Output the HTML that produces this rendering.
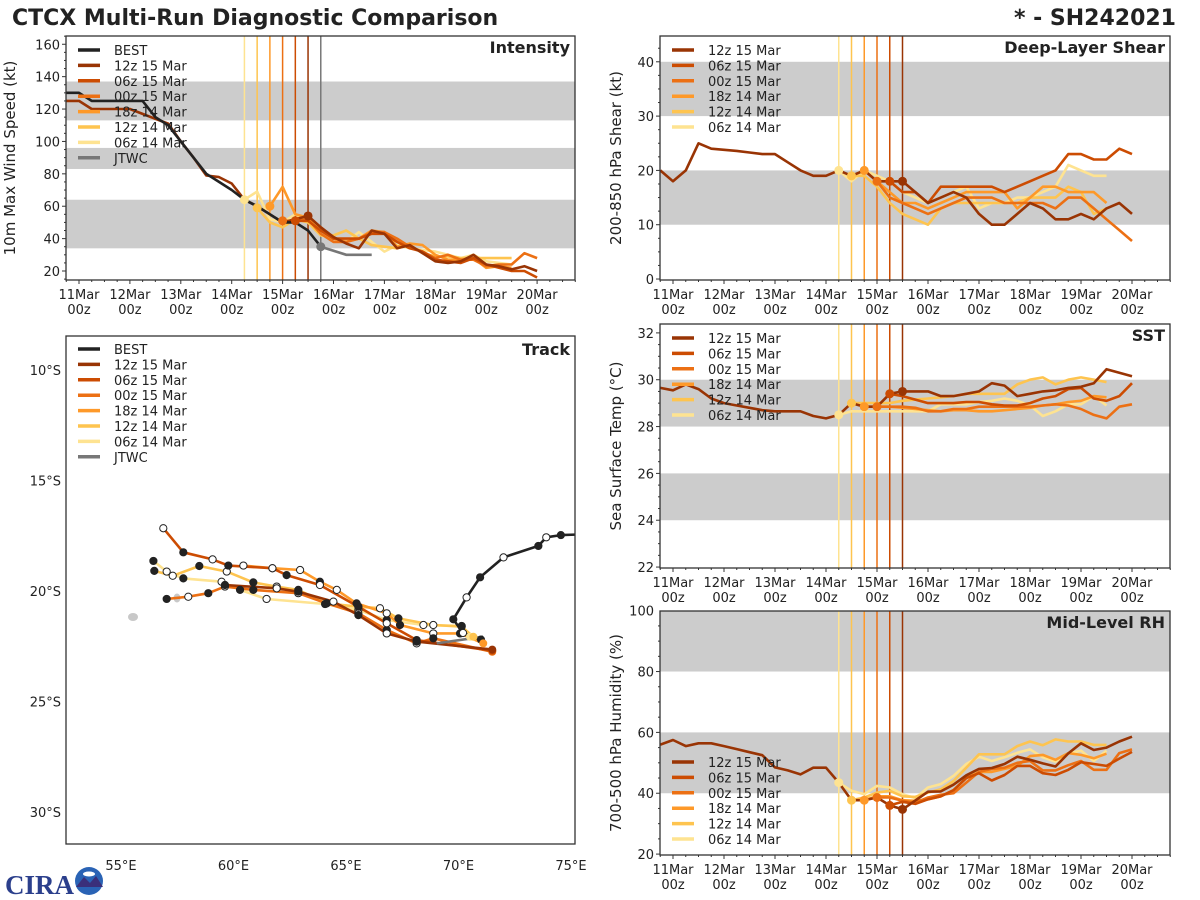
<!DOCTYPE html>
<html><head><meta charset="utf-8">
<style>
html,body{margin:0;padding:0;background:#fff;}
svg{display:block;font-family:"DejaVu Sans","Liberation Sans",sans-serif;}
</style></head>
<body>
<svg id="chart" width="1200" height="900" viewBox="0 0 1200 900" xmlns="http://www.w3.org/2000/svg">
<rect x="0" y="0" width="1200" height="900" fill="#fff"/>
<text x="12" y="25" font-size="22" font-weight="bold" fill="#222">CTCX Multi-Run Diagnostic Comparison</text>
<text x="1176" y="25" font-size="22" font-weight="bold" fill="#222" text-anchor="end">* - SH242021</text>
<g>
<text x="5" y="894" font-size="27" font-weight="bold" fill="#2b3f8c" font-family="Liberation Serif, serif">CIRA</text>
<circle cx="89" cy="881" r="14" fill="#2a63b5"/>
<path d="M76,887 L84,877 L90,883 L96,876 L103,887 Z" fill="#3a2f7a"/>
<ellipse cx="89" cy="874" rx="6" ry="2.5" fill="#fff"/>
</g>
<g id="root"></g>
</svg>
<script>
// ===== Shared run metadata =====
const runNames = ['12z 15 Mar','06z 15 Mar','00z 15 Mar','18z 14 Mar','12z 14 Mar','06z 14 Mar'];
const runInit = [4.5, 4.25, 4.0, 3.75, 3.5, 3.25]; // days since 11 Mar 00z
const runColors = ['#993404','#cc4c02','#ec7014','#fe9929','#fec44f','#fee391'];
const dayLabels = ['11Mar','12Mar','13Mar','14Mar','15Mar','16Mar','17Mar','18Mar','19Mar','20Mar'];
const histStart = -0.25;

// ===== Intensity (kt), 6-hourly =====
const intBest = [130,130,125,125,125,125,125,115,110,100,90,80,75,70,64,60,55,50,50,45,35];
const intJtwcT = [4.75,5.25,5.75];
const intJtwc = [35,30,30];
const int12z15 = [125,125,120,120,120,120,117,114,111,100,90,79,78,74,64,60,55,50,52, 54,47,41,37,34,45,43,34,36,31,26,25,26,30,24,23,21,23,20];
const int06z15 = [51,51,45,40,40,40,43,43,38,34,32,27,26,25,28,24,22,20,20,16];
const int00z15 = [51,51,52,43,38,38,40,44,44,40,35,32,28,30,27,27,23,24,24,31,28];
const int18z14 = [60,72,55,53,47,40,38,40,45,44,35,37,36,30,27,27,28,22,23,22];
const int12z14 = [59,50,47,52,50,42,42,45,40,36,35,34,36,31,29,29,28,28,28,28,28];
const int06z14 = [64,69,52,50,55,50,42,40,38,44,38,32,36,34,33,32,30,28,30,26,25,24];
const intTicks = [20,40,60,80,100,120,140,160];

// ===== Shear (kt) =====
const shr12z15 = [20,18,20,25,24,23.8,23.6,23.3,23,23,21.5,20,19,19,20,19,20,18,18,18, 16,14,15,16,15,12,10,10,12,14,13,11,11,12,11,13,14,12];
const shr06z15 = [18,16,16,14,17,17,17,17,17,16,17,18,19,20,23,23,22,22,24,23];
const shr00z15 = [18,15,14,13,12,13,14,15,15,15,14,14,14,14,13,15,15,13,11,9,7];
const shr18z14 = [20,18,16,14,14,13,14,15,16,16,16,16,13,15,17,17,16,16,16,14];
const shr12z14 = [19,19,17,14,12,11,10,13,14,14,14,14,14,14,15,15,15,17,16,12,13];
const shr06z14 = [20,18,20,19,18,16,15,14,15,16,17,13,14,14,15,15,16,17,21,20,19,19];
const shrTicks = [0,10,20,30,40];

// ===== SST (C) =====
const sst12z15 = [29.65,29.55,29.8,29.6,29.2,29.0,28.9,28.8,28.7,28.65,28.65,28.65,28.45,28.35,28.5,29.0,28.85,28.85,29.4, 29.5,29.5,29.5,29.3,29.3,29.4,29.5,29.85,29.75,29.3,29.4,29.5,29.55,29.65,29.7,29.85,30.45,30.3,30.15];
const sst06z15 = [29.4,29.3,29.15,29.0,29.0,29.0,29.05,29.05,28.95,28.9,28.9,29.0,29.2,29.3,29.6,29.65,29.2,29.1,29.3,29.85];
const sst00z15 = [28.85,28.85,28.85,28.8,28.65,28.65,28.75,28.75,28.85,28.85,28.85,28.85,28.85,28.9,28.95,28.9,28.75,28.5,28.35,28.85,28.95];
const sst18z14 = [28.85,28.85,28.85,28.8,28.75,28.7,28.65,28.7,28.7,28.65,28.65,28.7,28.75,28.8,28.9,28.95,29.05,29.1,29.3,29.25];
const sst12z14 = [29.0,29.0,29.0,29.0,29.1,29.15,29.2,29.25,29.3,29.4,29.4,29.4,29.4,29.8,30.0,30.1,29.8,30.0,30.1,30.0,29.9];
const sst06z14 = [28.5,28.65,28.65,28.65,28.65,28.65,28.65,28.65,28.95,28.95,28.95,29.05,29.1,29.2,29.1,28.9,28.45,28.65,28.95,28.95,29.3,28.9];
const sstTicks = [22,24,26,28,30,32];

// ===== Mid-level RH (%) =====
const rh12z15 = [56,57.5,55.5,56.4,56.4,55.5,54.5,53.5,52.5,48.5,47.5,46.2,48.4,48.4,43.5,37.7,37.7,38.6,36.0, 34.7,37.6,40.5,40.6,42.8,45.9,48,48.3,49.6,52,51,49.8,48.8,53.1,56.4,54.2,55,57,58.6];
const rh06z15 = [36,37.2,36.5,38,39,41,45,46.6,44.2,46,49,49,46.6,46,47.7,50.2,49.6,49,51.4,53.6];
const rh00z15 = [38.6,38.6,37.5,36.9,38.6,39.5,40,43.5,47,48,48.4,50,50.6,47.5,47.5,49.2,50.6,47.7,47.7,53.2,54.4];
const rh18z14 = [37.7,39,39,37.7,37.5,38,39,41,45,47,47,48,49,52.2,52.6,51,53.2,52.6,51.5,53];
const rh12z14 = [37.7,38.6,40.2,40.8,39,38.8,40.2,41.3,44,48.4,52.8,52.8,52.8,55.5,57,55.8,57.7,57,57,55.9,55.9];
const rh06z14 = [43.5,40.8,39.7,42.4,41.9,39.7,38.4,41.9,43,45.7,49.6,52,50.6,51.8,53.3,54.4,51.8,50.4,53.1,54,50.6,54];
const rhTicks = [20,40,60,80,100];

// ===== Track (lon E, lat S) =====
const trkBestLon = [75.2,74.55,73.9,73.55,72.0,70.96,70.36,69.77,70.2,71.0];
const trkBestLat = [17.45,17.47,17.57,17.96,18.48,19.38,20.29,21.28,21.9,22.2];
const trkJtwcLon = [69.03,71.09];
const trkJtwcLat = [22.37,22.07];
const trk12z15Lon = [71.5,68.14,66.81,65.55,64.44,62.88,61.92,59.62];
const trk12z15Lat = [22.65,22.29,21.92,21.09,20.48,20.03,19.88,19.73];
const trk06z15Lon = [71.5,68.14,66.81,65.55,63.84,62.36,61.73,59.77,59.07,57.77,56.88];
const trk06z15Lat = [22.7,22.22,21.46,20.71,19.73,19.28,18.97,18.85,18.57,18.25,17.16];
const trk00z15Lon = [71.5,68.88,68.14,66.81,65.55,64.14,62.88,60.88,59.62,58.88,57.99,57.03];
const trk00z15Lat = [22.75,22.14,22.37,21.76,21.01,20.56,20.10,19.95,19.80,20.10,20.26,20.36];
const trk18z14Lon = [71.1,70.07,68.88,67.40,66.81,65.47,64.59,63.84,62.96,61.73,60.44];
const trk18z14Lat = [22.37,21.92,21.92,21.54,21.01,20.56,19.95,19.58,19.05,18.97,18.85];
const trk12z14Lon = [70.66,70.14,68.88,67.33,66.51,65.55,64.14,62.88,61.92,60.88,59.70,58.48,57.30,56.48];
const trk12z14Lat = [22.07,21.61,21.54,21.24,20.78,20.71,20.56,19.95,19.80,19.61,19.12,18.87,19.31,19.09];
const trk06z14Lon = [70.51,70.14,68.44,66.81,65.55,64.07,61.47,60.29,59.47,57.77,57.03,56.44];
const trk06z14Lat = [22.07,21.58,21.54,21.31,20.86,20.59,20.36,19.95,19.58,19.43,19.12,18.64];
const lonTicks = [55,60,65,70,75];
const latTicks = [10,15,20,25,30];

// ===== helpers =====
const NS='http://www.w3.org/2000/svg';
const root=document.getElementById('root');
function mk(tag,attrs,parent){const e=document.createElementNS(NS,tag);for(const k in attrs)e.setAttribute(k,attrs[k]);(parent||root).appendChild(e);return e;}

function tsPanel(cfg){
  const g=mk('g',{});
  
  
  const X=d=>cfg.x0day+d*cfg.pxDay;
  const Y=v=>cfg.y1-(v-cfg.vmin)/(cfg.vmax-cfg.vmin)*(cfg.y1-cfg.y0);
  const clip='clip-'+cfg.name;
  const cp=mk('clipPath',{id:clip},g);mk('rect',{x:cfg.x0,y:cfg.y0,width:cfg.x1-cfg.x0,height:cfg.y1-cfg.y0},cp);
  const pg=mk('g',{'clip-path':'url(#'+clip+')'},g);
  cfg.bands.forEach(b=>{
    const r=mk('rect',{x:cfg.x0,y:Y(b[1]),width:cfg.x1-cfg.x0,height:Y(b[0])-Y(b[1]),fill:'#cccccc'},pg);
    
    
  });
  for(let i=runInit.length-1;i>=0;i--){
    const l=mk('line',{x1:X(runInit[i]),x2:X(runInit[i]),y1:cfg.y0,y2:cfg.y1,stroke:runColors[i],'stroke-width':1.5},pg);
    
    
  }
  if(cfg.jtwcLine){
    const l=mk('line',{x1:X(4.75),x2:X(4.75),y1:cfg.y0,y2:cfg.y1,stroke:'#777','stroke-width':1.5},pg);
    
    
  }
  function series(vals,t0,color,nm,step){
    const pts=vals.map((v,i)=>X(t0+i*(step||0.25)).toFixed(1)+','+Y(v).toFixed(1)).join(' ');
    const p=mk('polyline',{points:pts,fill:'none',stroke:color,'stroke-width':2.6,'stroke-linejoin':'round'},pg);
    
    
    return p;
  }
  for(let i=cfg.series.length-1;i>=0;i--){
    const t0=(i===0)?histStart:runInit[i];
    series(cfg.series[i],t0,runColors[i],cfg.name+'-'+runNames[i].replace(/ /g,'-').toLowerCase());
  }
  if(cfg.best) series(cfg.best,histStart,'#222','intensity-best');
  if(cfg.jtwc){
    const pts=cfg.jtwcT.map((t,i)=>X(t).toFixed(1)+','+Y(cfg.jtwc[i]).toFixed(1)).join(' ');
    const p=mk('polyline',{points:pts,fill:'none',stroke:'#777','stroke-width':2.6},pg);
    
    
    const c=mk('circle',{cx:X(cfg.jtwcT[0]),cy:Y(cfg.jtwc[0]),r:4.5,fill:'#777'},pg);
    
    
  }
  for(let i=cfg.series.length-1;i>=0;i--){
    const s=cfg.series[i];const idx=(i===0)?Math.round((runInit[0]-histStart)/0.25):0;
    const c=mk('circle',{cx:X(runInit[i]),cy:Y(s[idx]),r:4.5,fill:runColors[i]},pg);
    
    
  }
  mk('rect',{x:cfg.x0,y:cfg.y0,width:cfg.x1-cfg.x0,height:cfg.y1-cfg.y0,fill:'none',stroke:'#333','stroke-width':1.3},g);
  const step=cfg.ticks[1]-cfg.ticks[0];
  for(let v=cfg.ticks[0]-step;v<=cfg.vmax+0.001;v+=step/4){
    if(v<cfg.vmin-0.001)continue;
    const major=Math.abs(((v-cfg.ticks[0])/step)-Math.round((v-cfg.ticks[0])/step))<0.01;
    mk('line',{x1:cfg.x0,x2:cfg.x0-(major?4:2),y1:Y(v),y2:Y(v),stroke:'#333','stroke-width':1},g);
  }
  cfg.ticks.forEach(v=>{
    const t=mk('text',{x:cfg.x0-6,y:Y(v)+5,'font-size':13,'text-anchor':'end',fill:'#222'},g);t.textContent=v;
    
    
  });
  for(let d=-0.25;d<=9.75;d+=0.25){
    const xx=X(d);if(xx<cfg.x0-0.5||xx>cfg.x1+0.5)continue;
    const major=Math.abs(d-Math.round(d))<0.01;
    mk('line',{x1:xx,x2:xx,y1:cfg.y1,y2:cfg.y1+(major?4:2),stroke:'#333','stroke-width':1},g);
  }
  dayLabels.forEach((lb,i)=>{
    const t=mk('text',{x:X(i),y:cfg.y1+19,'font-size':13,'text-anchor':'middle',fill:'#222'},g);t.textContent=lb;
    
    
    const t2=mk('text',{x:X(i),y:cfg.y1+34,'font-size':13,'text-anchor':'middle',fill:'#222'},g);t2.textContent='00z';
    
    
  });
  const cy=(cfg.y0+cfg.y1)/2;
  const yt=mk('text',{x:cfg.ytx,y:cy,'font-size':15,'text-anchor':'middle',fill:'#222',transform:'rotate(-90 '+cfg.ytx+' '+cy+')'},g);yt.textContent=cfg.ytitle;
  
  
  const pt=mk('text',{x:cfg.x1-5,y:cfg.y0+17,'font-size':16,'font-weight':'bold','text-anchor':'end',fill:'#222'},g);pt.textContent=cfg.title;
  
  
  const entries=[];
  if(cfg.best)entries.push(['BEST','#222']);
  runNames.forEach((n,i)=>entries.push([n,runColors[i]]));
  if(cfg.jtwc)entries.push(['JTWC','#777']);
  entries.forEach((e,i)=>{
    const yy=cfg.legY+i*15.4;
    const lg=mk('g',{},g);
    
    
    mk('line',{x1:cfg.x0+12,x2:cfg.x0+34,y1:yy,y2:yy,stroke:e[1],'stroke-width':3.5},lg);
    const t=mk('text',{x:cfg.x0+48,y:yy+5,'font-size':13,fill:'#222'},lg);t.textContent=e[0];
  });
}

const L={x0:66,x1:575,x0day:79,pxDay:50.9};
const R={x0:660,x1:1170,x0day:673,pxDay:51};
tsPanel(Object.assign({},L,{name:'intensity',y0:36,y1:280,vmin:14.45,vmax:165.1,ticks:intTicks,bands:[[34,64],[83,96],[113,137]],
  series:[int12z15,int06z15,int00z15,int18z14,int12z14,int06z14],best:intBest,jtwc:intJtwc,jtwcT:intJtwcT,jtwcLine:true,
  title:'Intensity',ytitle:'10m Max Wind Speed (kt)',ytx:15,legY:50}));
tsPanel(Object.assign({},R,{name:'shear',y0:36,y1:280,vmin:-0.18,vmax:44.75,ticks:shrTicks,bands:[[10,20],[30,40]],
  series:[shr12z15,shr06z15,shr00z15,shr18z14,shr12z14,shr06z14],
  title:'Deep-Layer Shear',ytitle:'200-850 hPa Shear (kt)',ytx:621,legY:50}));
tsPanel(Object.assign({},R,{name:'sst',y0:324,y1:568,vmin:21.96,vmax:32.38,ticks:sstTicks,bands:[[24,26],[28,30]],
  series:[sst12z15,sst06z15,sst00z15,sst18z14,sst12z14,sst06z14],
  title:'SST',ytitle:'Sea Surface Temp (°C)',ytx:621,legY:338}));
tsPanel(Object.assign({},R,{name:'rh',y0:611,y1:855,vmin:19.7,vmax:99.9,ticks:rhTicks,bands:[[40,60],[80,100]],
  series:[rh12z15,rh06z15,rh00z15,rh18z14,rh12z14,rh06z14],
  title:'Mid-Level RH',ytitle:'700-500 hPa Humidity (%)',ytx:621,legY:762}));

(function(){
  const x0=66,x1=575,y0=336,y1=844;
  const X=lon=>121+(lon-55)*22.5, Y=lat=>370+(lat-10)*22.1;
  const g=mk('g',{});
  
  
  const cp=mk('clipPath',{id:'clip-trk'},g);mk('rect',{x:x0,y:y0,width:x1-x0,height:y1-y0},cp);
  const pg=mk('g',{'clip-path':'url(#clip-trk)'},g);
  const i1=mk('ellipse',{cx:133,cy:617,rx:5,ry:4,fill:'#c8c8c8'},pg);
  
  
  const i2=mk('ellipse',{cx:177,cy:598,rx:3.5,ry:4.5,fill:'#c8c8c8'},pg);
  
  
  const runs=[[trk06z14Lon,trk06z14Lat,5],[trk12z14Lon,trk12z14Lat,4],[trk18z14Lon,trk18z14Lat,3],[trk00z15Lon,trk00z15Lat,2],[trk06z15Lon,trk06z15Lat,1],[trk12z15Lon,trk12z15Lat,0]];
  function line(lons,lats,color,nm){
    const pts=lons.map((l,i)=>X(l).toFixed(1)+','+Y(lats[i]).toFixed(1)).join(' ');
    const p=mk('polyline',{points:pts,fill:'none',stroke:color,'stroke-width':2.6,'stroke-linejoin':'round'},pg);
    
    
  }
  function dots(lons,lats){
    lons.forEach((l,i)=>{
      if(i===0)return;
      const c=mk('circle',{cx:X(l),cy:Y(lats[i]),r:3.6,fill:(i%2?'#222':'#fff'),stroke:'#222','stroke-width':1},pg);
      
      
    });
  }
  runs.forEach(r=>line(r[0],r[1],runColors[r[2]],'track-'+runNames[r[2]].replace(/ /g,'-').toLowerCase()));
  line(trkBestLon,trkBestLat,'#222','track-best');
  line(trkJtwcLon,trkJtwcLat,'#777','track-jtwc');
  runs.forEach(r=>dots(r[0],r[1]));
  dots(trkBestLon,trkBestLat);
  runs.forEach(r=>{const c=mk('circle',{cx:X(r[0][0]),cy:Y(r[1][0]),r:4,fill:runColors[r[2]]},pg);
    
    });
  mk('rect',{x:x0,y:y0,width:x1-x0,height:y1-y0,fill:'none',stroke:'#333','stroke-width':1.3},g);
  lonTicks.forEach(v=>{const t=mk('text',{x:X(v),y:870,'font-size':13,'text-anchor':'middle',fill:'#222'},g);t.textContent=v+'°E';
    
    });
  latTicks.forEach(v=>{const t=mk('text',{x:61,y:Y(v)+5,'font-size':13,'text-anchor':'end',fill:'#222'},g);t.textContent=v+'°S';
    
    });
  const pt=mk('text',{x:x1-5,y:y0+19,'font-size':16,'font-weight':'bold','text-anchor':'end',fill:'#222'},g);pt.textContent='Track';
  
  
  const entries=[['BEST','#222']].concat(runNames.map((n,i)=>[n,runColors[i]])).concat([['JTWC','#777']]);
  entries.forEach((e,i)=>{
    const yy=349+i*15.4;
    const lg=mk('g',{},g);
    
    
    mk('line',{x1:78,x2:100,y1:yy,y2:yy,stroke:e[1],'stroke-width':3.5},lg);
    const t=mk('text',{x:114,y:yy+5,'font-size':13,fill:'#222'},lg);t.textContent=e[0];
  });
})();
</script>
</body></html>
